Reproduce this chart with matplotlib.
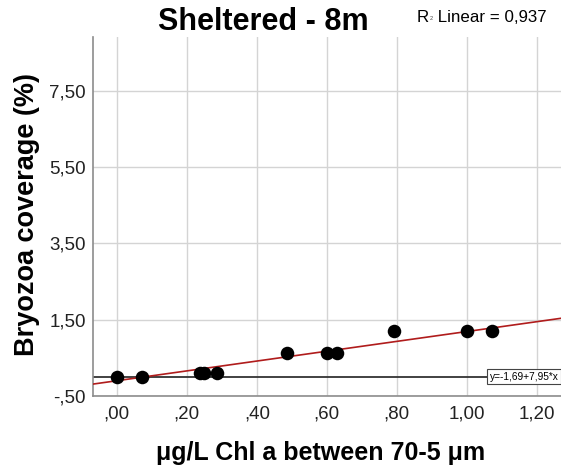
import matplotlib
matplotlib.use("Agg")
import matplotlib.pyplot as plt
from matplotlib.ticker import FuncFormatter

plt.rcParams['font.family'] = ['Liberation Sans', 'DejaVu Sans']

# Data
chl_x = [0.0, 0.073, 0.238, 0.248, 0.286, 0.487, 0.600, 0.630, 0.792, 1.000, 1.071]
bryozoa_y = [0.0, 0.0, 0.11, 0.11, 0.11, 0.62, 0.62, 0.62, 1.20, 1.20, 1.20]
fit_intercept = -0.10
fit_slope = 1.29
ref_line_y = 0.0
x_ticks = [0.0, 0.2, 0.4, 0.6, 0.8, 1.0, 1.2]
y_ticks = [-0.5, 1.5, 3.5, 5.5, 7.5]
title = "Sheltered - 8m"
r2_prefix = "R"
r2_sup = "2"
r2_rest = " Linear = 0,937"
eq_label = "y=-1,69+7,95*x"
xlabel = "\u03bcg/L Chl a between 70-5 \u03bcm"
ylabel = "Bryozoa coverage (%)"

W, H = 561, 473
fig = plt.figure(figsize=(W/100, H/100), dpi=100)
ax = fig.add_axes([93/W, 1-396/H, 1-93/W, (396-37)/H])

xmin, xmax = -0.068, 1.269
ymin, ymax = -0.5, 8.91
ax.set_xlim(xmin, xmax)
ax.set_ylim(ymin, ymax)

ax.set_xticks(x_ticks)
ax.set_yticks(y_ticks)

def fmt(v, pos):
    s = f"{v:.2f}".replace('.', ',')
    if s.startswith('0,'):
        s = s[1:]
    elif s.startswith('-0,'):
        s = '-' + s[2:]
    return s

ax.xaxis.set_major_formatter(FuncFormatter(fmt))
ax.yaxis.set_major_formatter(FuncFormatter(fmt))
ax.tick_params(length=0, labelsize=13.5, colors='#222222')
ax.tick_params(axis='x', pad=7)
ax.tick_params(axis='y', pad=5)

ax.grid(True, color='#d4d4d4', linewidth=1.0)
ax.set_axisbelow(True)
for s in ['top', 'right']:
    ax.spines[s].set_visible(False)
for s in ['left', 'bottom']:
    ax.spines[s].set_color('#8c8c8c')
    ax.spines[s].set_linewidth(1.2)

# reference horizontal line
ax.axhline(ref_line_y, color='#333333', linewidth=1.3, zorder=2)

# fit line
ax.plot([xmin, xmax], [fit_intercept + fit_slope*xmin, fit_intercept + fit_slope*xmax],
        color='#b01c1c', linewidth=1.2, zorder=3)

ax.scatter(chl_x, bryozoa_y, s=95, color='black', zorder=4, linewidths=0)

ax.text(1.263, ref_line_y, eq_label, fontsize=7.3, ha='right', va='center', zorder=5,
        bbox=dict(boxstyle='square,pad=0.25', facecolor='white', edgecolor='#444444', linewidth=0.8))

fig.text(321/W, 1-453/H, xlabel, fontsize=18, fontweight='bold', ha='center', va='center')
fig.text(27/W, 1-214/H, ylabel, fontsize=19.5, fontweight='bold', ha='center', va='center',
         rotation=90)

fig.text(263/W, 1-22/H, title, fontsize=22, fontweight='bold', ha='center', va='center')

# R² label with tiny superscript as in the reference
t1 = fig.text(417/W, 1-17/H, r2_prefix, fontsize=12.2, ha='left', va='center')
fig.canvas.draw()
r = fig.canvas.get_renderer()
bb = t1.get_window_extent(r)
t2 = fig.text(bb.x1/W + 0.5/W, 1-18/H, r2_sup, fontsize=4, ha='left', va='center', color='#444444')
bb2 = t2.get_window_extent(r)
fig.text(bb2.x1/W, 1-17/H, r2_rest, fontsize=12.2, ha='left', va='center')

fig.savefig("out.png", dpi=100)
